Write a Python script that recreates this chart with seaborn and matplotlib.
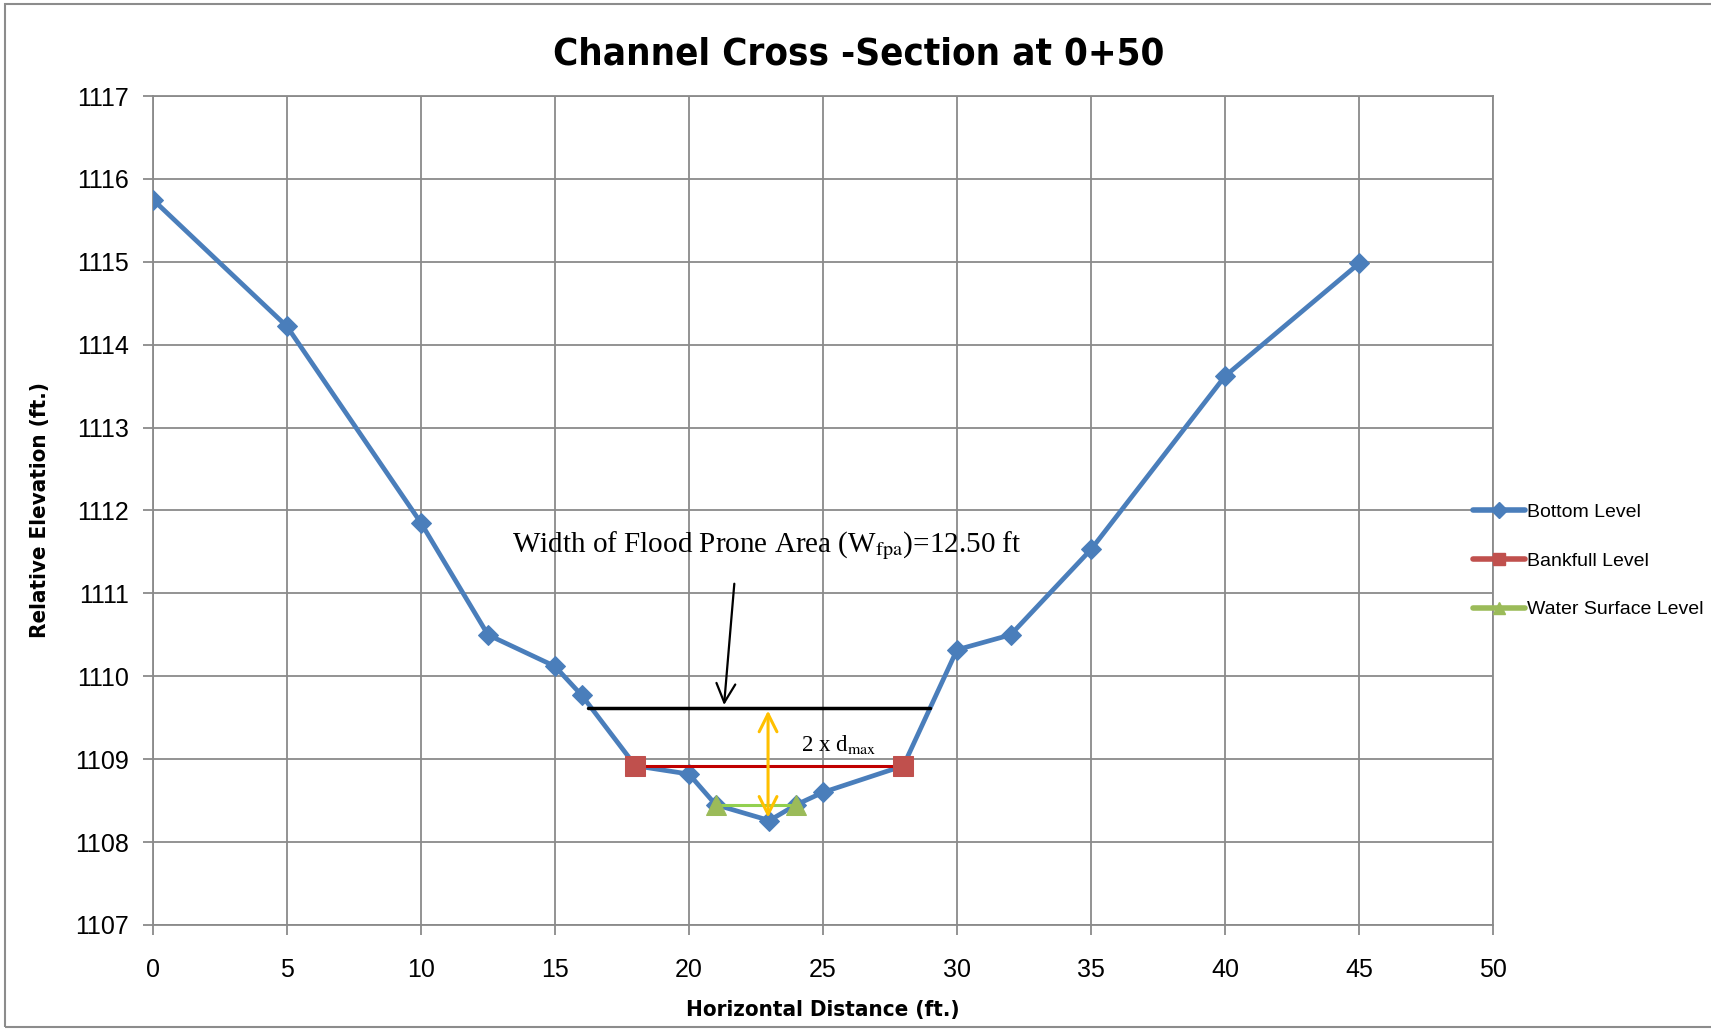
import matplotlib
matplotlib.use("Agg")
import matplotlib.pyplot as plt
from matplotlib.lines import Line2D
from matplotlib.patches import Rectangle
import seaborn as sns
import pandas as pd

# Survey data
bottom_x = [0, 5, 10, 12.5, 15, 16, 18, 20, 21, 23, 24, 25, 28, 30, 32, 35, 40, 45]
bottom_y = [1115.75, 1114.22, 1111.85, 1110.5, 1110.12, 1109.77, 1108.92, 1108.82,
            1108.45, 1108.26, 1108.45, 1108.6, 1108.92, 1110.32, 1110.5, 1111.53, 1113.62, 1114.98]
bankfull_x = [18, 28]
bankfull_y = [1108.92, 1108.92]
water_x = [21, 24]
water_y = [1108.45, 1108.45]
fpa_x = [16.25, 29.0]
fpa_y = [1109.62, 1109.62]
dmax_x = 22.95
dmax_y = [1109.62, 1108.26]

x_ticks = list(range(0, 51, 5))
y_ticks = list(range(1107, 1118))

sns.set_theme(style="white")
plt.rcParams['font.family'] = ['Liberation Sans', 'DejaVu Sans']
plt.rcParams['text.color'] = 'black'
plt.rcParams['axes.labelcolor'] = 'black'
plt.rcParams['xtick.labelcolor'] = 'black'
plt.rcParams['ytick.labelcolor'] = 'black'
plt.rcParams['mathtext.fontset'] = 'stix'
narrow = dict(family=['DejaVu Sans'], fontstretch='condensed', fontweight='bold')
serif = ['Liberation Serif', 'DejaVu Serif']

fig = plt.figure(figsize=(17.11, 10.29), dpi=100)
ax = fig.add_axes([0.0894, 0.1011, 0.7832, 0.8056])

fig.patches.append(Rectangle((5 / 1711, 2 / 1029), 1.2, 1 - 6 / 1029, transform=fig.transFigure,
                             fill=False, edgecolor='#8c8c8c', lw=1.5, zorder=-1))

blue = '#4A7EBB'
df_bottom = pd.DataFrame({'x': bottom_x, 'y': bottom_y})
sns.lineplot(data=df_bottom, x='x', y='y', ax=ax, color=blue, lw=3.4, marker='D',
             markersize=10, markeredgecolor=blue, zorder=4)
sns.lineplot(x=bankfull_x, y=bankfull_y, ax=ax, color='#C00000', lw=2.2, marker='s',
             markersize=15, markerfacecolor='#C0504D', markeredgecolor='#C0504D', zorder=5)
sns.lineplot(x=water_x, y=water_y, ax=ax, color='#92D050', lw=2.2, marker='^',
             markersize=15, markerfacecolor='#9BBB59', markeredgecolor='#9BBB59', zorder=5)

# flood prone width line and 2 x dmax arrow
ax.plot(fpa_x, fpa_y, color='black', lw=2.5, zorder=6)
ax.annotate('', xy=(dmax_x, dmax_y[0]), xytext=(dmax_x, dmax_y[1]),
            arrowprops=dict(arrowstyle='<->', color='#FFC000', lw=2.2, mutation_scale=32), zorder=7)
ax.annotate('', xy=(21.3, fpa_y[0]), xytext=(21.7, 1111.15),
            arrowprops=dict(arrowstyle='->', color='black', lw=1.6, mutation_scale=34), zorder=7)
ax.text(22.9, 1111.57, r'Width of Flood Prone Area (W$_{\mathrm{fpa}}$)=12.50 ft',
        ha='center', va='center', fontsize=21, family=serif)
ax.text(25.6, 1109.18, r'2 x d$_{\mathrm{max}}$', ha='center', va='center',
        fontsize=16.5, family=serif)

ax.set_xlim(0, 50)
ax.set_ylim(1107, 1117)
ax.set_xticks(x_ticks)
ax.set_yticks(y_ticks)
ax.grid(True, color='#8a8a8a', lw=1.3)
for s in ax.spines.values():
    s.set_color('#8a8a8a')
    s.set_linewidth(1.3)
ax.tick_params(axis='both', which='both', length=7, width=1.3, color='#8a8a8a',
               labelsize=18, direction='out', left=True, bottom=True)
ax.tick_params(axis='x', pad=17)
ax.tick_params(axis='y', pad=10)

ax.set_xlabel('Horizontal Distance (ft.)', fontsize=16, labelpad=13, **narrow)
ax.set_ylabel('Relative Elevation (ft.)', fontsize=16, labelpad=18, **narrow)
fig.suptitle('Channel Cross -Section at 0+50', x=0.502, y=0.965, fontsize=27.5,
             va='top', **narrow)

handles = [
    Line2D([], [], color=blue, lw=4, marker='D', markersize=8),
    Line2D([], [], color='#C0504D', lw=4, marker='s', markersize=9),
    Line2D([], [], color='#9BBB59', lw=4, marker='^', markersize=9),
]
fig.legend(handles, ['Bottom Level', 'Bankfull Level', 'Water Surface Level'],
           loc='center left', bbox_to_anchor=(0.8505, 0.455), frameon=False, fontsize=14,
           handlelength=2.7, handletextpad=0.1, labelspacing=1.6)

fig.savefig('out.png', dpi=100)
